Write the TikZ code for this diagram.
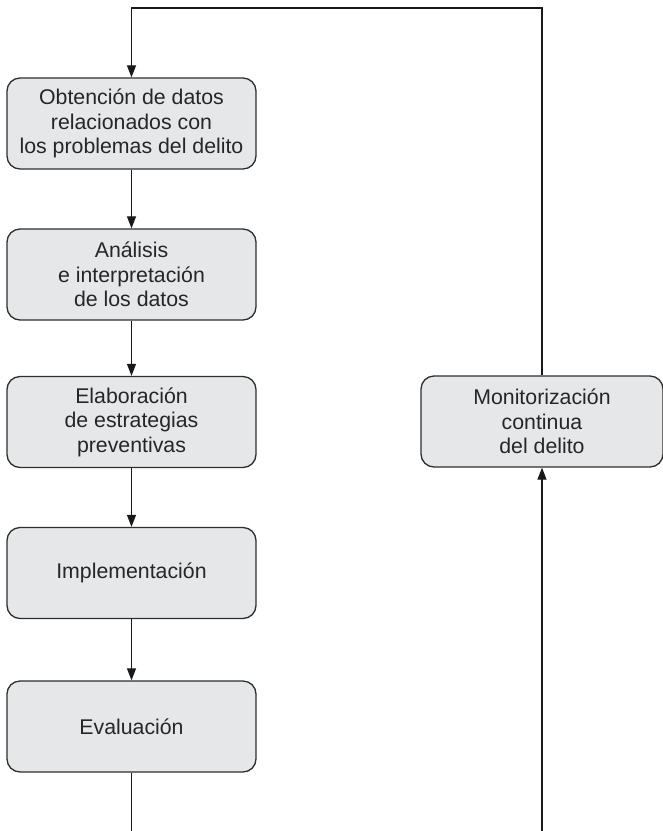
\documentclass[tikz,border=0pt]{standalone}
\usepackage{fontspec}
\setmainfont{Liberation Sans}
\usetikzlibrary{arrows.meta}
\definecolor{boxfill}{HTML}{E6E7E8}
\definecolor{boxline}{HTML}{2E2E2E}
\begin{document}
\begin{tikzpicture}[x=1pt,y=-1pt,
  stepbox/.style={draw=boxline, line width=1.3pt, fill=boxfill, rounded corners=13pt,
    minimum width=249pt, minimum height=91pt, align=center, inner sep=0pt,
    font=\fontsize{21.3}{24.5}\selectfont, text=black!85},
  link/.style={draw=black!90, line width=1.2pt},
  arr/.style={link, -{Triangle[length=12pt,width=9pt]}}]
  \useasboundingbox (0,0) rectangle (663,831);
  % main sequence of stages
  \node[stepbox] (obt) at (131.5,123.5) {Obtención de datos\\relacionados con\\los problemas del delito};
  \node[stepbox] (ana) at (131.5,274.5) {Análisis\\e interpretación\\de los datos};
  \node[stepbox] (ela) at (131.5,422) {Elaboración\\de estrategias\\preventivas};
  \node[stepbox] (imp) at (131.5,573) {Implementación};
  \node[stepbox] (eva) at (131.5,726.5) {Evaluación};
  % monitoring stage
  \node[stepbox, minimum width=242pt] (mon) at (542,421.5) {Monitorización\\continua\\del delito};
  % loose ends and corners of the feedback loop
  \coordinate (evaend) at (131.5,831);
  \coordinate (monstart) at (542,831);
  \coordinate (topleft) at (131.5,8);
  \coordinate (topright) at (542,8);
  % connectors
  \draw[arr] (obt.south) -- (ana.north);
  \draw[arr] (ana.south) -- (ela.north);
  \draw[arr] (ela.south) -- (imp.north);
  \draw[arr] (imp.south) -- (eva.north);
  \draw[link] (eva.south) -- (evaend);
  \draw[arr] (monstart) -- (mon.south);
  \draw[arr] (mon.north) -- (topright) -- (topleft) -- (obt.north);
\end{tikzpicture}
\end{document}
